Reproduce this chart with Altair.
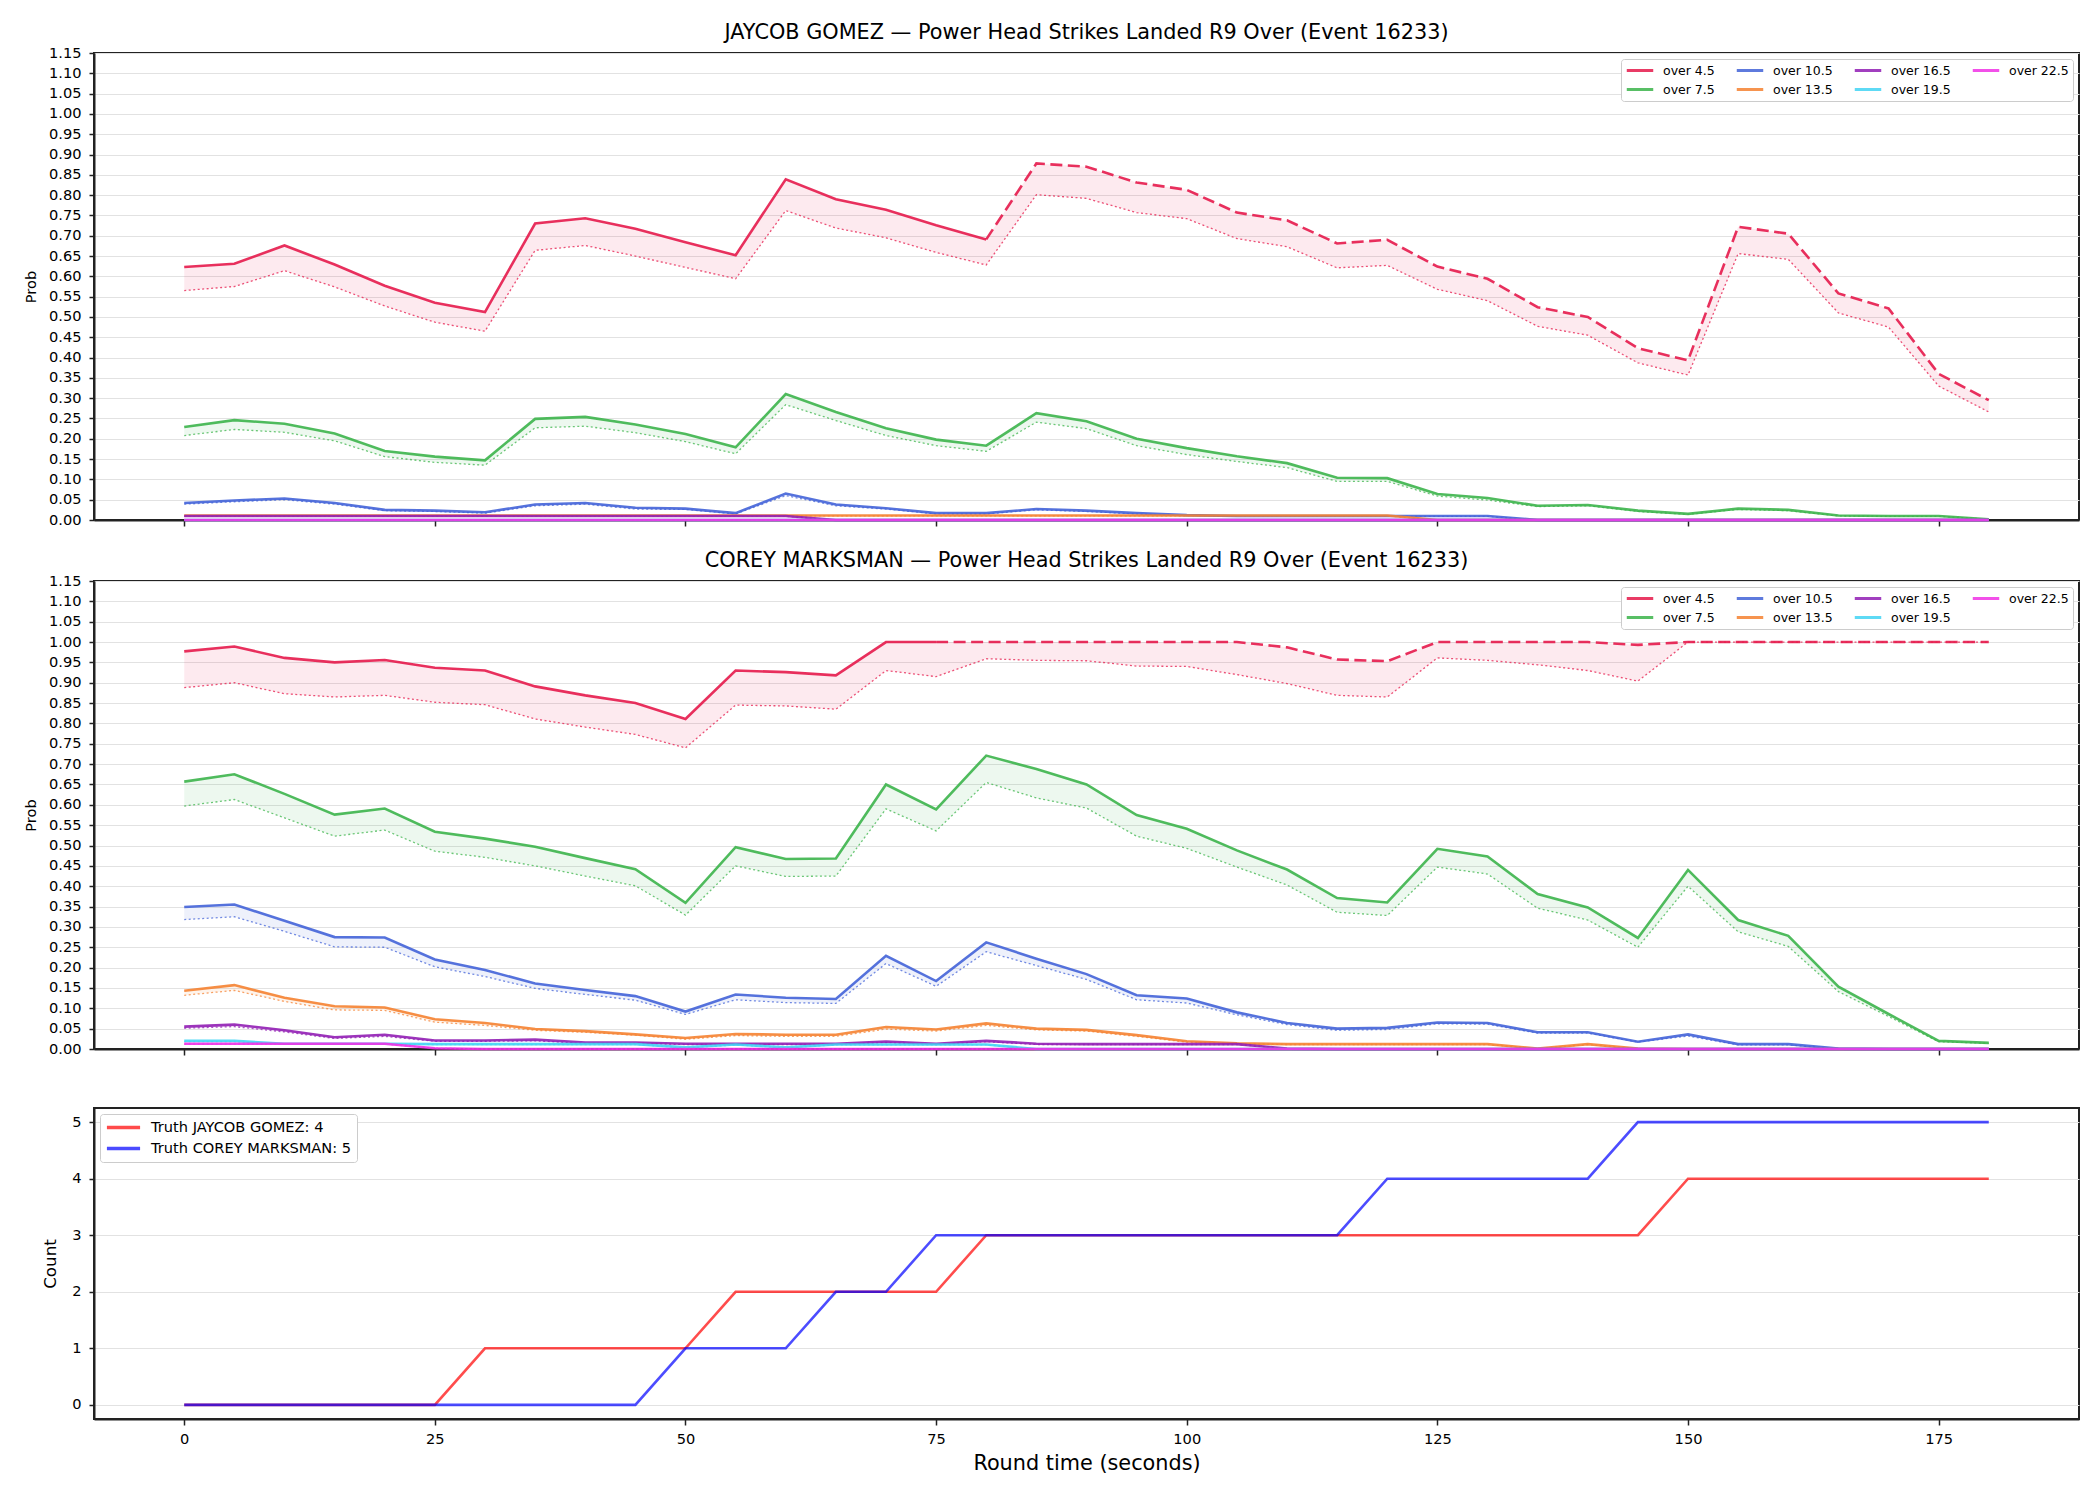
import altair as alt
import pandas as pd

# Sample times across the round (seconds)
TIME_S = [0, 5, 10, 15, 20, 25, 30, 35, 40, 45, 50, 55, 60, 65, 70, 75, 80, 85, 90,
          95, 100, 105, 110, 115, 120, 125, 130, 135, 140, 145, 150, 155, 160, 165,
          170, 175, 180]

THRESHOLDS = ["over 4.5", "over 7.5", "over 10.5", "over 13.5", "over 16.5", "over 19.5", "over 22.5"]
THRESHOLD_COLORS = ["#e6194b", "#3cb44b", "#4363d8", "#f58231", "#911eb4", "#42d4f4", "#f032e6"]

# ---- JAYCOB GOMEZ: upper (market) and lower (dotted) probability per line ----
GOMEZ_4_5 = [0.623, 0.631, 0.676, 0.629, 0.577, 0.535, 0.512, 0.730, 0.743, 0.717, 0.684, 0.652,
             0.839, 0.790, 0.764, 0.726, 0.691, 0.878, 0.870, 0.831, 0.813, 0.757, 0.738, 0.681,
             0.690, 0.624, 0.594, 0.524, 0.500, 0.423, 0.393, 0.722, 0.705, 0.558, 0.521, 0.360, 0.295]
GOMEZ_4_5_LOW = [0.565, 0.575, 0.614, 0.574, 0.527, 0.487, 0.465, 0.664, 0.676, 0.650, 0.622, 0.594,
                 0.762, 0.719, 0.695, 0.659, 0.628, 0.801, 0.792, 0.757, 0.742, 0.693, 0.673, 0.621,
                 0.627, 0.568, 0.540, 0.477, 0.455, 0.387, 0.357, 0.656, 0.642, 0.510, 0.475, 0.330, 0.266]
GOMEZ_7_5 = [0.229, 0.246, 0.237, 0.213, 0.170, 0.156, 0.147, 0.249, 0.254, 0.235, 0.212, 0.179,
             0.310, 0.266, 0.226, 0.198, 0.183, 0.263, 0.243, 0.200, 0.177, 0.157, 0.140, 0.104,
             0.103, 0.064, 0.054, 0.035, 0.037, 0.023, 0.015, 0.028, 0.025, 0.011, 0.010, 0.010, 0.002]
GOMEZ_7_5_LOW = [0.208, 0.223, 0.216, 0.195, 0.156, 0.142, 0.135, 0.227, 0.231, 0.215, 0.193, 0.163,
                 0.284, 0.245, 0.208, 0.183, 0.169, 0.241, 0.225, 0.183, 0.161, 0.144, 0.129, 0.095,
                 0.095, 0.059, 0.049, 0.033, 0.035, 0.021, 0.014, 0.026, 0.023, 0.010, 0.009, 0.009, 0.002]
GOMEZ_10_5 = [0.042, 0.048, 0.053, 0.042, 0.025, 0.023, 0.019, 0.038, 0.042, 0.030, 0.028, 0.017,
              0.065, 0.038, 0.029, 0.017, 0.017, 0.027, 0.023, 0.017, 0.012, 0.010, 0.010, 0.010,
              0.010, 0.010, 0.010, 0.0, 0.0, 0.0, 0.0, 0.0, 0.0, 0.0, 0.0, 0.0, 0.0]
GOMEZ_10_5_LOW = [0.039, 0.045, 0.050, 0.039, 0.023, 0.021, 0.017, 0.035, 0.039, 0.027, 0.026, 0.015,
                  0.060, 0.035, 0.027, 0.015, 0.015, 0.025, 0.021, 0.015, 0.011, 0.009, 0.009, 0.009,
                  0.009, 0.009, 0.009, 0.0, 0.0, 0.0, 0.0, 0.0, 0.0, 0.0, 0.0, 0.0, 0.0]
GOMEZ_13_5 = [0.011, 0.011, 0.011, 0.011, 0.011, 0.011, 0.011, 0.011, 0.011, 0.011, 0.011, 0.011,
              0.011, 0.011, 0.011, 0.011, 0.011, 0.011, 0.011, 0.011, 0.011, 0.011, 0.011, 0.011,
              0.011, 0.0, 0.0, 0.0, 0.0, 0.0, 0.0, 0.0, 0.0, 0.0, 0.0, 0.0, 0.0]
GOMEZ_13_5_LOW = [0.010, 0.010, 0.010, 0.010, 0.010, 0.010, 0.010, 0.010, 0.010, 0.010, 0.010, 0.010,
                  0.010, 0.010, 0.010, 0.010, 0.010, 0.010, 0.010, 0.010, 0.010, 0.010, 0.010, 0.010,
                  0.010, 0.0, 0.0, 0.0, 0.0, 0.0, 0.0, 0.0, 0.0, 0.0, 0.0, 0.0, 0.0]
GOMEZ_16_5 = [0.010, 0.010, 0.010, 0.010, 0.010, 0.010, 0.010, 0.010, 0.010, 0.010, 0.010, 0.010,
              0.010, 0.0, 0.0, 0.0, 0.0, 0.0, 0.0, 0.0, 0.0, 0.0, 0.0, 0.0,
              0.0, 0.0, 0.0, 0.0, 0.0, 0.0, 0.0, 0.0, 0.0, 0.0, 0.0, 0.0, 0.0]
GOMEZ_16_5_LOW = [0.009, 0.009, 0.009, 0.009, 0.009, 0.009, 0.009, 0.009, 0.009, 0.009, 0.009, 0.009,
                  0.009, 0.0, 0.0, 0.0, 0.0, 0.0, 0.0, 0.0, 0.0, 0.0, 0.0, 0.0,
                  0.0, 0.0, 0.0, 0.0, 0.0, 0.0, 0.0, 0.0, 0.0, 0.0, 0.0, 0.0, 0.0]
GOMEZ_19_5 = [0.0] * 37
GOMEZ_19_5_LOW = [0.0] * 37
GOMEZ_22_5 = [0.0] * 37
GOMEZ_22_5_LOW = [0.0] * 37

# ---- COREY MARKSMAN ----
MARKSMAN_4_5 = [0.977, 0.989, 0.961, 0.950, 0.956, 0.937, 0.930, 0.891, 0.869, 0.850, 0.811, 0.930,
                0.926, 0.918, 1.000, 1.000, 1.000, 1.000, 1.000, 1.000, 1.000, 1.000, 0.987, 0.957,
                0.953, 1.000, 1.000, 1.000, 1.000, 0.993, 1.000, 1.000, 1.000, 1.000, 1.000, 1.000, 1.000]
MARKSMAN_4_5_LOW = [0.888, 0.900, 0.873, 0.865, 0.869, 0.852, 0.846, 0.811, 0.791, 0.773, 0.740, 0.845,
                    0.843, 0.835, 0.930, 0.915, 0.959, 0.955, 0.954, 0.941, 0.940, 0.920, 0.898, 0.869,
                    0.865, 0.961, 0.955, 0.944, 0.930, 0.904, 1.000, 1.000, 1.000, 1.000, 1.000, 1.000, 1.000]
MARKSMAN_7_5 = [0.657, 0.675, 0.627, 0.576, 0.591, 0.534, 0.517, 0.497, 0.469, 0.442, 0.359, 0.496,
                0.467, 0.468, 0.650, 0.589, 0.721, 0.688, 0.650, 0.575, 0.541, 0.488, 0.441, 0.371,
                0.360, 0.492, 0.473, 0.381, 0.348, 0.273, 0.440, 0.317, 0.278, 0.153, 0.086, 0.020, 0.015]
MARKSMAN_7_5_LOW = [0.597, 0.613, 0.568, 0.523, 0.538, 0.486, 0.471, 0.450, 0.425, 0.401, 0.329, 0.450,
                    0.424, 0.425, 0.590, 0.536, 0.655, 0.617, 0.592, 0.523, 0.493, 0.447, 0.403, 0.336,
                    0.328, 0.447, 0.430, 0.346, 0.317, 0.250, 0.400, 0.288, 0.252, 0.141, 0.080, 0.018, 0.014]
MARKSMAN_10_5 = [0.349, 0.355, 0.315, 0.275, 0.274, 0.220, 0.194, 0.161, 0.145, 0.130, 0.092, 0.134,
                 0.126, 0.123, 0.229, 0.167, 0.262, 0.222, 0.184, 0.132, 0.124, 0.090, 0.064, 0.050,
                 0.052, 0.065, 0.064, 0.041, 0.041, 0.018, 0.036, 0.012, 0.012, 0.001, 0.0, 0.0, 0.0]
MARKSMAN_10_5_LOW = [0.318, 0.325, 0.289, 0.251, 0.250, 0.202, 0.178, 0.149, 0.134, 0.120, 0.085, 0.121,
                     0.114, 0.112, 0.210, 0.154, 0.239, 0.205, 0.171, 0.121, 0.113, 0.084, 0.060, 0.046,
                     0.048, 0.062, 0.061, 0.039, 0.039, 0.017, 0.032, 0.010, 0.010, 0.001, 0.0, 0.0, 0.0]
MARKSMAN_13_5 = [0.143, 0.157, 0.126, 0.105, 0.102, 0.073, 0.064, 0.049, 0.044, 0.036, 0.027, 0.037,
                 0.035, 0.035, 0.054, 0.048, 0.063, 0.050, 0.047, 0.034, 0.019, 0.014, 0.012, 0.012,
                 0.012, 0.012, 0.012, 0.001, 0.012, 0.001, 0.0, 0.0, 0.0, 0.0, 0.0, 0.0, 0.0]
MARKSMAN_13_5_LOW = [0.132, 0.144, 0.117, 0.096, 0.095, 0.066, 0.058, 0.046, 0.041, 0.034, 0.024, 0.033,
                     0.031, 0.031, 0.049, 0.044, 0.058, 0.047, 0.044, 0.031, 0.017, 0.013, 0.011, 0.011,
                     0.011, 0.011, 0.011, 0.001, 0.011, 0.001, 0.0, 0.0, 0.0, 0.0, 0.0, 0.0, 0.0]
MARKSMAN_16_5 = [0.055, 0.060, 0.046, 0.029, 0.035, 0.021, 0.021, 0.023, 0.016, 0.016, 0.013, 0.013,
                 0.013, 0.013, 0.018, 0.013, 0.020, 0.013, 0.012, 0.012, 0.012, 0.012, 0.001, 0.0,
                 0.0, 0.0, 0.0, 0.0, 0.0, 0.0, 0.0, 0.0, 0.0, 0.0, 0.0, 0.0, 0.0]
MARKSMAN_16_5_LOW = [0.051, 0.055, 0.042, 0.026, 0.031, 0.019, 0.019, 0.020, 0.014, 0.014, 0.011, 0.011,
                     0.011, 0.011, 0.016, 0.011, 0.018, 0.011, 0.011, 0.011, 0.011, 0.011, 0.001, 0.0,
                     0.0, 0.0, 0.0, 0.0, 0.0, 0.0, 0.0, 0.0, 0.0, 0.0, 0.0, 0.0, 0.0]
MARKSMAN_19_5 = [0.020, 0.020, 0.013, 0.013, 0.013, 0.012, 0.012, 0.012, 0.012, 0.012, 0.004, 0.011,
                 0.004, 0.011, 0.011, 0.011, 0.011, 0.0, 0.0, 0.0, 0.0, 0.0, 0.0, 0.0,
                 0.0, 0.0, 0.0, 0.0, 0.0, 0.0, 0.0, 0.0, 0.0, 0.0, 0.0, 0.0, 0.0]
MARKSMAN_19_5_LOW = [0.018, 0.018, 0.012, 0.012, 0.012, 0.011, 0.011, 0.011, 0.011, 0.011, 0.003, 0.010,
                     0.003, 0.010, 0.010, 0.010, 0.010, 0.0, 0.0, 0.0, 0.0, 0.0, 0.0, 0.0,
                     0.0, 0.0, 0.0, 0.0, 0.0, 0.0, 0.0, 0.0, 0.0, 0.0, 0.0, 0.0, 0.0]
MARKSMAN_22_5 = [0.013, 0.013, 0.013, 0.013, 0.013, 0.002, 0.0, 0.0, 0.0, 0.0, 0.0, 0.0,
                 0.0, 0.0, 0.0, 0.0, 0.0, 0.0, 0.0, 0.0, 0.0, 0.0, 0.0, 0.0,
                 0.0, 0.0, 0.0, 0.0, 0.0, 0.0, 0.0, 0.0, 0.0, 0.0, 0.0, 0.0, 0.0]
MARKSMAN_22_5_LOW = [0.012, 0.012, 0.012, 0.012, 0.012, 0.002, 0.0, 0.0, 0.0, 0.0, 0.0, 0.0,
                     0.0, 0.0, 0.0, 0.0, 0.0, 0.0, 0.0, 0.0, 0.0, 0.0, 0.0, 0.0,
                     0.0, 0.0, 0.0, 0.0, 0.0, 0.0, 0.0, 0.0, 0.0, 0.0, 0.0, 0.0, 0.0]

# the over 4.5 line is drawn dashed from this time on
GOMEZ_DASH_FROM = 80
MARKSMAN_DASH_FROM = 75

# ---- observed running count ----
TRUTH_GOMEZ = [0, 0, 0, 0, 0, 0, 1, 1, 1, 1, 1, 2, 2, 2, 2, 2, 3, 3, 3, 3, 3, 3, 3, 3, 3,
               3, 3, 3, 3, 3, 4, 4, 4, 4, 4, 4, 4]
TRUTH_MARKSMAN = [0, 0, 0, 0, 0, 0, 0, 0, 0, 0, 1, 1, 1, 2, 2, 3, 3, 3, 3, 3, 3, 3, 3, 3, 4,
                  4, 4, 4, 4, 5, 5, 5, 5, 5, 5, 5, 5]

X_TICKS = [0, 25, 50, 75, 100, 125, 150, 175]
PROB_TICKS = [round(0.05 * i, 2) for i in range(24)]
COUNT_TICKS = [0, 1, 2, 3, 4, 5]

FONT = "DejaVu Sans"
PLOT_W = 1985
LINE_W = 2.6
X_SCALE = alt.Scale(domain=[-9, 189], nice=False, zero=False)


def prob_frame(hi_lists, lo_lists):
    rows = []
    for label, hi, lo in zip(THRESHOLDS, hi_lists, lo_lists):
        for t, h, l in zip(TIME_S, hi, lo):
            rows.append({"t": t, "line": label, "hi": h, "lo": l})
    return pd.DataFrame(rows)


def prob_panel(title, df, dash_from, height):
    color_scale = alt.Scale(domain=THRESHOLDS, range=THRESHOLD_COLORS)
    x = alt.X("t:Q", scale=X_SCALE,
              axis=alt.Axis(values=X_TICKS, labels=False, title=None, grid=False, tickSize=6))
    y_scale = alt.Scale(domain=[0, 1.15], nice=False, zero=False)
    y_axis = alt.Axis(values=PROB_TICKS, format=".2f", title="Prob", grid=True,
                      titleFontSize=14.6, titlePadding=10)
    # every layer carries the same legend definition so they merge into one key
    color = alt.Color("line:N", scale=color_scale, legend=alt.Legend(
        title=None, orient="top-right", offset=6, columns=4, gridAlign="each",
        symbolType="stroke", symbolSize=700, symbolStrokeWidth=3, symbolOpacity=0.85,
        labelFont=FONT, labelFontSize=12.5, labelColor="#000", labelLimit=0,
        fillColor="white", strokeColor="#cccccc", cornerRadius=3, padding=4,
        clipHeight=15, rowPadding=4, columnPadding=20, labelOffset=8))

    base = alt.Chart(df)
    band = base.mark_area(opacity=0.09).encode(
        x=x, y=alt.Y("lo:Q", scale=y_scale, axis=y_axis), y2="hi:Q", color=color)
    low = base.mark_line(strokeWidth=1.3, strokeDash=[2, 2.5], opacity=0.75).encode(
        x=x, y=alt.Y("lo:Q", scale=y_scale, axis=y_axis), color=color)
    solid = base.transform_filter(
        f"datum.line != 'over 4.5' || datum.t <= {dash_from}"
    ).mark_line(strokeWidth=LINE_W, opacity=0.9).encode(
        x=x, y=alt.Y("hi:Q", scale=y_scale, axis=y_axis), color=color)
    dashed = base.transform_filter(
        f"datum.line == 'over 4.5' && datum.t >= {dash_from}"
    ).mark_line(strokeWidth=LINE_W, strokeDash=[12, 5.5], opacity=0.9).encode(
        x=x, y=alt.Y("hi:Q", scale=y_scale, axis=y_axis), color=color)
    return alt.layer(band, low, solid, dashed).properties(
        width=PLOT_W, height=height, title=title)


gomez_df = prob_frame(
    [GOMEZ_4_5, GOMEZ_7_5, GOMEZ_10_5, GOMEZ_13_5, GOMEZ_16_5, GOMEZ_19_5, GOMEZ_22_5],
    [GOMEZ_4_5_LOW, GOMEZ_7_5_LOW, GOMEZ_10_5_LOW, GOMEZ_13_5_LOW, GOMEZ_16_5_LOW,
     GOMEZ_19_5_LOW, GOMEZ_22_5_LOW])
marksman_df = prob_frame(
    [MARKSMAN_4_5, MARKSMAN_7_5, MARKSMAN_10_5, MARKSMAN_13_5, MARKSMAN_16_5, MARKSMAN_19_5,
     MARKSMAN_22_5],
    [MARKSMAN_4_5_LOW, MARKSMAN_7_5_LOW, MARKSMAN_10_5_LOW, MARKSMAN_13_5_LOW,
     MARKSMAN_16_5_LOW, MARKSMAN_19_5_LOW, MARKSMAN_22_5_LOW])

top = prob_panel("JAYCOB GOMEZ — Power Head Strikes Landed R9 Over (Event 16233)",
                 gomez_df, GOMEZ_DASH_FROM, 467)
middle = prob_panel("COREY MARKSMAN — Power Head Strikes Landed R9 Over (Event 16233)",
                    marksman_df, MARKSMAN_DASH_FROM, 468)

# ---- truth panel ----
label_g = f"Truth JAYCOB GOMEZ: {TRUTH_GOMEZ[-1]}"
label_m = f"Truth COREY MARKSMAN: {TRUTH_MARKSMAN[-1]}"
truth_g = pd.DataFrame({"t": TIME_S, "count": TRUTH_GOMEZ, "who": label_g})
truth_m = pd.DataFrame({"t": TIME_S, "count": TRUTH_MARKSMAN, "who": label_m})

truth_color = alt.Color("who:N", scale=alt.Scale(domain=[label_g, label_m],
                                                 range=["#ff0000", "#0000ff"]),
                        legend=alt.Legend(title=None, orient="top-left", offset=6,
                                          symbolType="stroke", symbolSize=1100,
                                          symbolStrokeWidth=3.5, symbolOpacity=0.7,
                                          labelFont=FONT, labelFontSize=14.6,
                                          labelColor="#000", labelLimit=0,
                                          fillColor="white", strokeColor="#cccccc",
                                          cornerRadius=3, padding=5, clipHeight=17,
                                          rowPadding=4, labelOffset=9))
tx = alt.X("t:Q", scale=X_SCALE,
           axis=alt.Axis(values=X_TICKS, title="Round time (seconds)", grid=False, tickSize=6,
                         titleFontSize=20.8, labelPadding=6, titlePadding=8))
ty = alt.Y("count:Q", scale=alt.Scale(domain=[-0.25, 5.25], nice=False, zero=False),
           axis=alt.Axis(values=COUNT_TICKS, title="Count", grid=True, titleFontSize=16.7,
                         titlePadding=12))
truth_lines = alt.layer(
    alt.Chart(truth_g).mark_line(strokeWidth=LINE_W, opacity=0.7).encode(x=tx, y=ty, color=truth_color),
    alt.Chart(truth_m).mark_line(strokeWidth=LINE_W, opacity=0.7).encode(x=tx, y=ty, color=truth_color),
).properties(width=PLOT_W, height=311)

prob_stack = alt.vconcat(top, middle, spacing=21).resolve_scale(
    color="independent").resolve_legend(color="independent")

chart = alt.vconcat(prob_stack, truth_lines, spacing=50).resolve_scale(
    color="independent"
).resolve_legend(color="independent").properties(
    padding={"left": 22, "top": 21, "right": 20, "bottom": 10}
).configure_axis(
    labelFont=FONT, labelFontSize=14.6, labelColor="#000", titleFont=FONT,
    titleFontWeight="normal", titleColor="#000", domainColor="#222", domainWidth=2,
    tickColor="#222", tickWidth=1.5, tickSize=5, labelPadding=8, gridColor="#e2e2e2",
    gridWidth=1
).configure_view(
    stroke="#222", strokeWidth=2
).configure_title(
    font=FONT, fontSize=20.8, fontWeight="normal", color="#000", offset=1, anchor="middle"
)

chart.save("out.html", embed_options={"renderer": "svg", "actions": False})
